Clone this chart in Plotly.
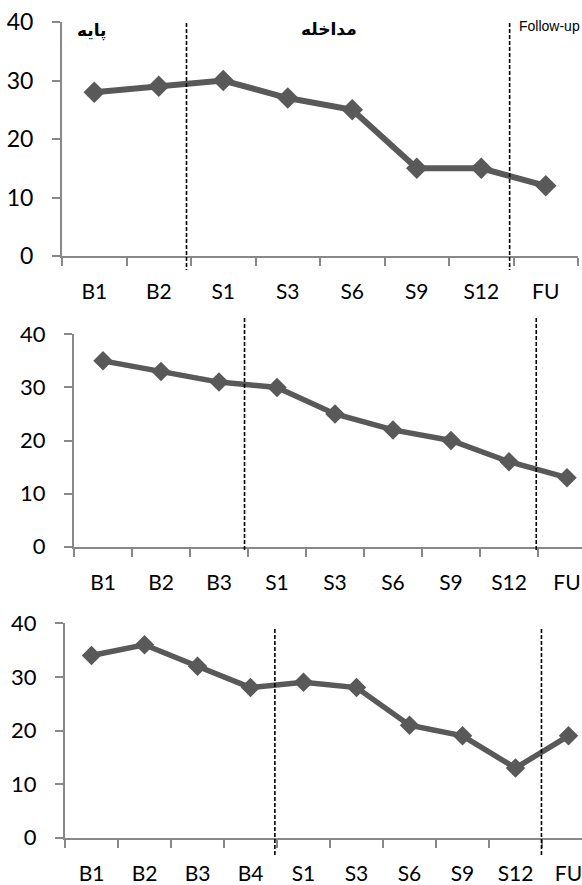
import plotly.graph_objects as go

# ---- data ----
cats1 = ["B1", "B2", "S1", "S3", "S6", "S9", "S12", "FU"]
vals1 = [28, 29, 30, 27, 25, 15, 15, 12]
cats2 = ["B1", "B2", "B3", "S1", "S3", "S6", "S9", "S12", "FU"]
vals2 = [35, 33, 31, 30, 25, 22, 20, 16, 13]
cats3 = ["B1", "B2", "B3", "B4", "S1", "S3", "S6", "S9", "S12", "FU"]
vals3 = [34, 36, 32, 28, 29, 28, 21, 19, 13, 19]
# phase-change positions (in category units)
phase1 = [1.43, 6.44]
phase2 = [2.44, 7.47]
phase3 = [3.46, 8.49]
y_ticks = [0, 10, 20, 30, 40]

W, H = 582, 885


def px_x(x):
    return x / W


def px_y(y):
    return 1 - y / H


GRAY = "#595959"
AX = "#888888"

panels = [
    dict(cats=cats1, vals=vals1, phase=phase1, xpx=(62, 578), ypx=(256, 22),
         xmax=7.5, vline=(23, 270), msize=16.5, lw=6, ysize=23),
    dict(cats=cats2, vals=vals2, phase=phase2, xpx=(74, 582), ypx=(546.7, 334.3),
         xmax=-0.5 + (582 - 74) / 58.0, vline=(318, 550), msize=15, lw=5.5, ysize=22),
    dict(cats=cats3, vals=vals3, phase=phase3, xpx=(65, 582), ypx=(837.7, 623.3),
         xmax=-0.5 + (582 - 65) / 53.0, vline=(629, 857), msize=15, lw=5.5, ysize=22),
]

fig = go.Figure()
layout = {}
shapes = []
for i, p in enumerate(panels):
    n = "" if i == 0 else str(i + 1)
    fig.add_trace(go.Scatter(
        x=p["cats"], y=p["vals"], mode="lines+markers",
        xaxis="x" + n, yaxis="y" + n,
        line=dict(color=GRAY, width=p["lw"]),
        marker=dict(symbol="diamond", size=p["msize"], color=GRAY),
        cliponaxis=False, showlegend=False, hoverinfo="skip",
    ))
    layout["xaxis" + n] = dict(
        domain=[px_x(p["xpx"][0]), min(1, px_x(p["xpx"][1]))],
        anchor="y" + n, type="category",
        categoryorder="array", categoryarray=p["cats"],
        range=[-0.5, p["xmax"]], automargin=False, ticklabeloverflow="allow",
        showline=True, linecolor=AX, linewidth=2,
        ticks="outside", tickson="boundaries", ticklen=8, tickcolor=AX, tickwidth=2,
        showgrid=False, zeroline=False,
        tickfont=dict(family="Lato", size=21, color="black"),
        ticklabelstandoff=16,
    )
    layout["yaxis" + n] = dict(
        domain=[px_y(p["ypx"][0]), px_y(p["ypx"][1])],
        anchor="x" + n, range=[0, 40], tickvals=y_ticks, automargin=False,
        ticklabeloverflow="allow",
        showline=True, linecolor=AX, linewidth=2,
        ticks="outside", ticklen=8, tickcolor=AX, tickwidth=2,
        showgrid=False, zeroline=False,
        tickfont=dict(family="Lato", size=p["ysize"], color="black"),
        ticklabelstandoff=14,
    )
    for xpos in p["phase"]:
        shapes.append(dict(
            type="line", xref="x" + n, yref="paper",
            x0=xpos, x1=xpos, y0=px_y(p["vline"][0]), y1=px_y(p["vline"][1]),
            line=dict(color="black", width=1.6, dash="4px,2px"),
        ))

annotations = [
    dict(text="<b>پایه</b>", x=px_x(91), y=px_y(30), xref="paper", yref="paper",
         showarrow=False, font=dict(family="DejaVu Sans", size=17, color="black"),
         xanchor="center", yanchor="middle"),
    dict(text="<b>مداخله</b>", x=px_x(329), y=px_y(29), xref="paper", yref="paper",
         showarrow=False, font=dict(family="DejaVu Sans", size=17, color="black"),
         xanchor="center", yanchor="middle"),
    dict(text="Follow-up", x=px_x(517), y=px_y(26), xref="paper", yref="paper",
         showarrow=False, font=dict(family="Liberation Sans", size=14, color="black"),
         xanchor="left", yanchor="middle"),
]

fig.update_layout(
    width=W, height=H, margin=dict(l=0, r=0, t=0, b=0, autoexpand=False),
    paper_bgcolor="white", plot_bgcolor="white",
    shapes=shapes, annotations=annotations, showlegend=False,
    **layout,
)
fig.write_html(
    "out.html",
    config={"displayModeBar": False, "staticPlot": True},
    post_script="document.body.style.margin='0';document.body.style.overflow='hidden';"
                "document.documentElement.style.overflow='hidden';",
)
